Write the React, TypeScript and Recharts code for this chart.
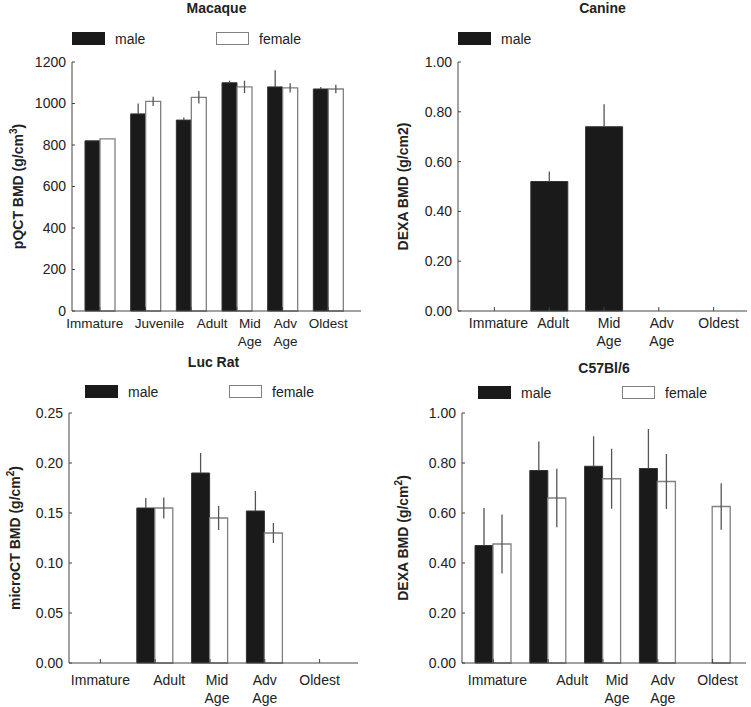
import React from 'react';
import { BarChart, Bar, XAxis, YAxis, ErrorBar, Label } from 'recharts';

const FONT = "'Liberation Sans', Arial, Helvetica, sans-serif";
const MALE = '#1a1a1a';
const FEMALE_EDGE = '#808080';
const FRAME = '#444';
const ERR = '#555';
const TEXT = '#222';

// Macaque (pQCT)
const macaqueStages = ['Immature', 'Juvenile', 'Adult', 'Mid Age', 'Adv Age', 'Oldest'];
const macaqueMale = [820, 950, 920, 1100, 1080, 1070];
const macaqueMaleErr = [0, 50, 12, 10, 80, 10];
const macaqueFemale = [830, 1010, 1030, 1080, 1075, 1070];
const macaqueFemaleErr = [0, 22, 30, 30, 22, 20];
const macaqueTicks = [0, 200, 400, 600, 800, 1000, 1200];

// Canine (DEXA)
const canineStages = ['Immature', 'Adult', 'Mid Age', 'Adv Age', 'Oldest'];
const canineMale = [null, 0.52, 0.74, null, null];
const canineMaleErr = [0, 0.04, 0.09, 0, 0];
const canineTicks = [0, 0.2, 0.4, 0.6, 0.8, 1.0];

// Luc Rat (microCT)
const ratStages = ['Immature', 'Adult', 'Mid Age', 'Adv Age', 'Oldest'];
const ratMale = [null, 0.155, 0.19, 0.152, null];
const ratMaleErr = [0, 0.01, 0.02, 0.02, 0];
const ratFemale = [null, 0.155, 0.145, 0.13, null];
const ratFemaleErr = [0, 0.0105, 0.012, 0.01, 0];
const ratTicks = [0, 0.05, 0.1, 0.15, 0.2, 0.25];

// C57Bl/6 (DEXA)
const mouseStages = ['Immature', 'Adult', 'Mid Age', 'Adv Age', 'Oldest'];
const mouseMale = [0.47, 0.77, 0.787, 0.778, null];
const mouseMaleErr = [0.15, 0.116, 0.12, 0.158, 0];
const mouseFemale = [0.476, 0.66, 0.737, 0.726, 0.626];
const mouseFemaleErr = [0.118, 0.117, 0.12, 0.11, 0.093];
const mouseTicks = [0, 0.2, 0.4, 0.6, 0.8, 1.0];

// the category labels in the original sit a little off the bar groups
const macaqueLabelShift = [-5, 14, 21, 13, 3, 0];
const canineLabelShift = [4, 4, 5, 3, 5];
const ratLabelShift = [0, 14, 7, 0, 0];
const mouseLabelShift = [4, 24, 14, 5, 5];

const buildRows = (
  stages: string[],
  male: (number | null)[],
  maleErr: number[],
  female?: (number | null)[],
  femaleErr?: number[],
) =>
  stages.map((stage, i) => ({
    stage,
    male: male[i],
    // male whiskers only show above the black bar
    maleErr: [0, maleErr[i]],
    female: female ? female[i] : null,
    femaleErr: femaleErr ? femaleErr[i] : 0,
  }));

const XTick = ({ x, y, payload, index, dy, shift, fontSize }: any) => {
  const lines = String(payload.value).split(' ');
  const cx = x + (shift[index] || 0);
  return (
    <text x={cx} y={y + dy} textAnchor="middle" fontSize={fontSize} fill={TEXT} fontFamily={FONT}>
      {lines.map((l, i) => (
        <tspan key={i} x={cx} dy={i === 0 ? 0 : 18}>
          {l}
        </tspan>
      ))}
    </text>
  );
};

const Swatch = ({ female }: { female?: boolean }) => (
  <div
    style={{
      width: 33,
      height: 13,
      boxSizing: 'border-box',
      background: female ? '#fff' : MALE,
      border: `1px solid ${female ? FEMALE_EDGE : MALE}`,
    }}
  />
);

const LegendRow = ({ left, top, female }: { left: number; top: number; female: boolean }) => (
  <div style={{ position: 'absolute', left, top, display: 'flex', fontFamily: FONT, fontSize: 14, color: TEXT }}>
    {(female ? ['male', 'female'] : ['male']).map((name) => (
      <div key={name} style={{ width: 144, height: 13, display: 'flex', alignItems: 'center' }}>
        <Swatch female={name === 'female'} />
        <span style={{ marginLeft: 10 }}>{name}</span>
      </div>
    ))}
  </div>
);

interface PanelProps {
  left: number;
  top: number;
  width: number;
  height: number;
  margin: { top: number; right: number; bottom: number; left: number };
  yWidth: number;
  xHeight: number;
  rows: any[];
  ticks: number[];
  fmt: (v: number) => string;
  yLabel: React.ReactNode;
  labelX: number;
  title: string;
  titleTop: number;
  pad: { left: number; right: number };
  barSize: number;
  tickDy: number;
  labelShift: number[];
  xFontSize: number;
  female: boolean;
}

const Panel = (p: PanelProps) => {
  const plotLeft = p.margin.left + p.yWidth;
  const plotWidth = p.width - plotLeft - p.margin.right;
  const domain: [number, number] = [p.ticks[0], p.ticks[p.ticks.length - 1]];
  return (
    <div style={{ position: 'absolute', left: p.left, top: p.top, width: p.width, height: p.height }}>
      <div
        style={{
          position: 'absolute',
          left: plotLeft,
          width: plotWidth,
          top: p.titleTop,
          height: 16,
          lineHeight: '16px',
          textAlign: 'center',
          fontFamily: FONT,
          fontWeight: 'bold',
          fontSize: 14,
          color: TEXT,
        }}
      >
        {p.title}
      </div>
      <BarChart width={p.width} height={p.height} data={p.rows} margin={p.margin} barGap={0}>
        <XAxis
          dataKey="stage"
          height={p.xHeight}
          interval={0}
          padding={p.pad}
          axisLine={{ stroke: FRAME }}
          tickLine={{ stroke: FRAME }}
          tickSize={-4}
          tickMargin={4}
          tick={(props: any) => (
            <XTick {...props} dy={p.tickDy} shift={p.labelShift} fontSize={p.xFontSize} />
          )}
        />
        <XAxis xAxisId="top" orientation="top" dataKey="stage" height={0} tick={false} tickLine={false} axisLine={{ stroke: FRAME }} />
        <YAxis
          width={p.yWidth}
          domain={domain}
          ticks={p.ticks}
          interval={0}
          tickFormatter={p.fmt}
          axisLine={{ stroke: FRAME }}
          tickLine={{ stroke: FRAME }}
          tickSize={-3}
          tickMargin={9}
          tick={{ fontSize: 14, fill: TEXT, fontFamily: FONT }}
        >
          <Label
            content={({ viewBox }: any) => (
              <text
                transform={`translate(${p.labelX},${viewBox.y + viewBox.height / 2}) rotate(-90)`}
                textAnchor="middle"
                dominantBaseline="central"
                fontFamily={FONT}
                fontWeight="bold"
                fontSize={14}
                fill={TEXT}
              >
                {p.yLabel}
              </text>
            )}
          />
        </YAxis>
        <YAxis yAxisId="right" orientation="right" width={0} domain={domain} tick={false} tickLine={false} axisLine={{ stroke: FRAME }} />
        <Bar dataKey="male" name="male" fill={MALE} stroke="#333" strokeWidth={1} barSize={p.barSize} isAnimationActive={false}>
          <ErrorBar dataKey="maleErr" width={0} stroke={ERR} strokeWidth={1.3} isAnimationActive={false} />
        </Bar>
        {p.female && (
          <Bar dataKey="female" name="female" fill="#fff" stroke={FEMALE_EDGE} strokeWidth={1.3} barSize={p.barSize} isAnimationActive={false}>
            <ErrorBar dataKey="femaleErr" width={0} stroke={ERR} strokeWidth={1.3} isAnimationActive={false} />
          </Bar>
        )}
      </BarChart>
    </div>
  );
};

const sup = (base: string, s: string) => (
  <>
    {base}
    <tspan dy={-5} fontSize={10}>
      {s}
    </tspan>
    <tspan dy={5}>)</tspan>
  </>
);

export default function App() {
  return (
    <div style={{ position: 'absolute', left: 0, top: 0, width: 751, height: 707, background: '#fff' }}>
      <Panel
        left={0}
        top={0}
        width={375}
        height={350}
        margin={{ top: 62, right: 14, bottom: 0, left: 0 }}
        yWidth={72}
        xHeight={39}
        rows={buildRows(macaqueStages, macaqueMale, macaqueMaleErr, macaqueFemale, macaqueFemaleErr)}
        ticks={macaqueTicks}
        fmt={(v) => String(v)}
        yLabel={sup('pQCT BMD (g/cm', '3')}
        labelX={18}
        title="Macaque"
        titleTop={0}
        pad={{ left: 5, right: 10 }}
        barSize={15}
        tickDy={17}
        labelShift={macaqueLabelShift}
        xFontSize={13.5}
        female
      />
      <Panel
        left={375}
        top={0}
        width={376}
        height={350}
        margin={{ top: 62, right: 4, bottom: 0, left: 0 }}
        yWidth={83}
        xHeight={39}
        rows={buildRows(canineStages, canineMale, canineMaleErr)}
        ticks={canineTicks}
        fmt={(v) => v.toFixed(2)}
        yLabel="DEXA BMD (g/cm2)"
        labelX={28}
        title="Canine"
        titleTop={0}
        pad={{ left: 9, right: 6 }}
        barSize={37}
        tickDy={17}
        labelShift={canineLabelShift}
        xFontSize={14}
        female={false}
      />
      <Panel
        left={0}
        top={350}
        width={375}
        height={357}
        margin={{ top: 63, right: 17, bottom: 4, left: 0 }}
        yWidth={69}
        xHeight={40}
        rows={buildRows(ratStages, ratMale, ratMaleErr, ratFemale, ratFemaleErr)}
        ticks={ratTicks}
        fmt={(v) => v.toFixed(2)}
        yLabel={sup('microCT BMD (g/cm', '2')}
        labelX={15}
        title="Luc Rat"
        titleTop={4}
        pad={{ left: 4, right: 11 }}
        barSize={18}
        tickDy={22}
        labelShift={ratLabelShift}
        xFontSize={14}
        female
      />
      <Panel
        left={375}
        top={350}
        width={376}
        height={357}
        margin={{ top: 63, right: 5, bottom: 4, left: 0 }}
        yWidth={87}
        xHeight={40}
        rows={buildRows(mouseStages, mouseMale, mouseMaleErr, mouseFemale, mouseFemaleErr)}
        ticks={mouseTicks}
        fmt={(v) => v.toFixed(2)}
        yLabel={sup('DEXA BMD (g/cm', '2')}
        labelX={28}
        title="C57Bl/6"
        titleTop={10}
        pad={{ left: 4, right: 6 }}
        barSize={18}
        tickDy={22}
        labelShift={mouseLabelShift}
        xFontSize={14}
        female
      />
      <LegendRow left={72} top={32} female />
      <LegendRow left={458} top={32} female={false} />
      <LegendRow left={85} top={385} female />
      <LegendRow left={478} top={386} female />
    </div>
  );
}
